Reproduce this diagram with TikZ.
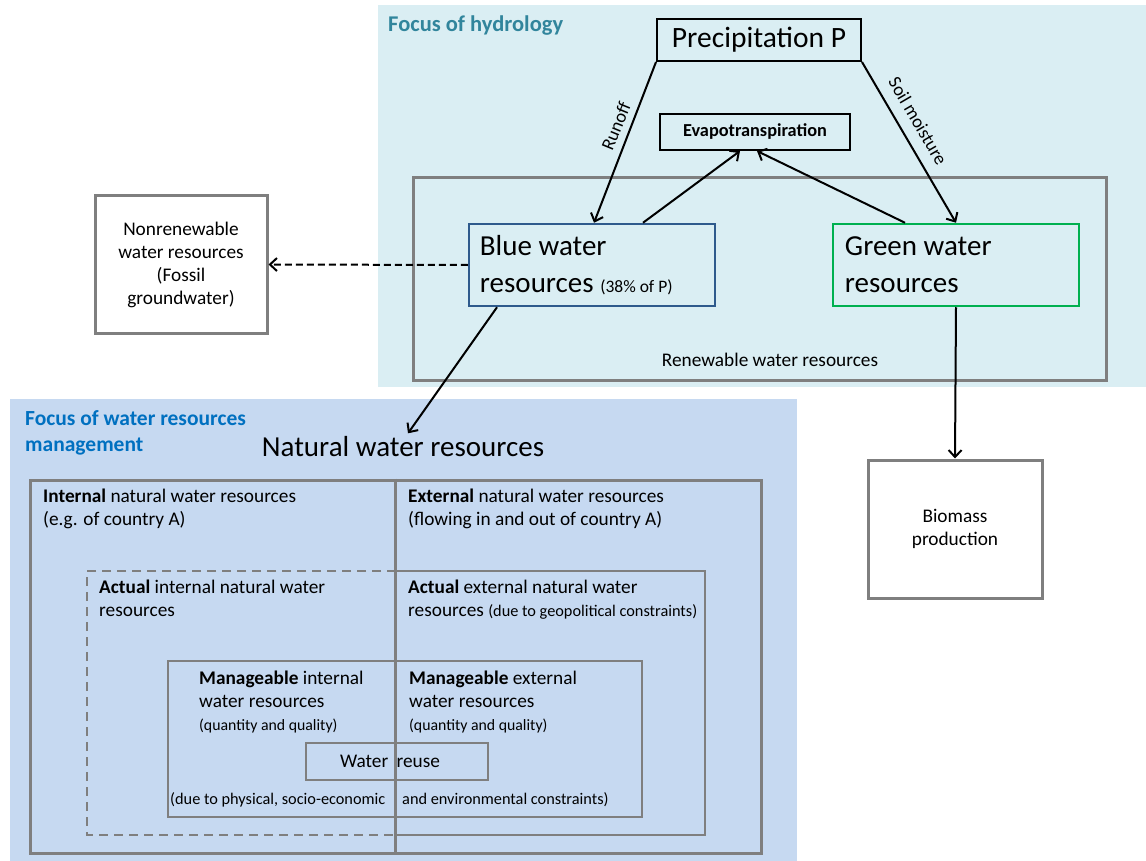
\documentclass[tikz,border=0pt]{standalone}
\usepackage{fontspec}
\setmainfont{Carlito}
\usetikzlibrary{arrows.meta,calc}

\definecolor{hydrobg}{HTML}{DAEEF3}
\definecolor{mgmtbg}{HTML}{C6D9F1}
\definecolor{framegray}{HTML}{7F7F7F}
\definecolor{bluebox}{HTML}{2E5A8C}
\definecolor{greenbox}{HTML}{00B050}
\definecolor{hydrotitle}{HTML}{31859C}
\definecolor{mgmttitle}{HTML}{0070C0}

\newcommand\fsz[2]{\fontsize{#1}{#2}\selectfont}

\tikzset{
  arr/.style={line width=2pt, -{Straight Barb[length=7pt,width=13pt,line width=2pt]}},
  graybox/.style={draw=framegray, line width=3pt},
  txt/.style={inner sep=0pt, align=left, font=\fsz{19.3}{23}},
  smalltxt/.style={inner sep=0pt, font=\fsz{16.3}{19}},
  lbl/.style={font=\fsz{18.5}{22}, inner sep=0pt},
  bigtxt/.style={inner sep=0pt, align=left, font=\fsz{29}{37}},
}

\begin{document}
\begin{tikzpicture}[x=1pt,y=-1pt]
\useasboundingbox (0,0) rectangle (1146,861);

% backgrounds of the two focus areas
\fill[hydrobg] (378,5) rectangle (1146,387);
\fill[mgmtbg] (10,399) rectangle (797,861);

% ---------- hydrology part ----------
\node[anchor=base west, inner sep=0pt, text=hydrotitle, font=\bfseries\fsz{22.5}{27}] (hydtitle) at (388,32) {Focus of hydrology};

\node[draw, line width=2pt, minimum width=204pt, minimum height=42pt, inner sep=0pt, font=\fsz{29.5}{34}] (prec) at (759,40) {Precipitation P};
\node[draw, line width=2pt, minimum width=190pt, minimum height=36pt, inner sep=0pt, font=\bfseries\fsz{18.3}{21}] (evap) at (755,132) {Evapotranspiration};

\node[graybox, minimum width=693pt, minimum height=202pt] (renew) at (759.5,279) {};
\node[inner sep=0pt, font=\fsz{19.3}{23}] (renewlbl) at (770,360) {Renewable water resources};

\node[draw=bluebox, line width=2.5pt, minimum width=246pt, minimum height=82pt] (blue) at (592,265) {};
\node[bigtxt, anchor=west] (bluetxt) at ([xshift=12pt]blue.west) {Blue water\\resources {\fsz{17.5}{20}(38\% of P)}};
\node[draw=greenbox, line width=2.5pt, minimum width=246pt, minimum height=82pt] (green) at (956,265) {};
\node[bigtxt, anchor=west] (greentxt) at ([xshift=13pt]green.west) {Green water\\resources};

\node[graybox, fill=white, minimum width=172pt, minimum height=137pt, inner sep=0pt, align=center, font=\fsz{19.3}{23}] (nonren) at (181,264.5) {Nonrenewable\\water resources\\(Fossil\\groundwater)};
\node[graybox, fill=white, minimum width=174pt, minimum height=138pt, inner sep=0pt, align=center, font=\fsz{19.3}{23}] (biomass) at (955,529) {Biomass\\production};

% flow labels, set along their connectors
\node[lbl, rotate=67.7] (runofflbl) at (616,126) {Runoff};
\node[lbl, rotate=-59.7] (soillbl) at (918,121) {Soil moisture};

% ---------- water resources management part ----------
\node[anchor=north west, inner sep=0pt, align=left, text=mgmttitle, font=\bfseries\fsz{21.5}{26}] (mgmttitle) at (25,410) {Focus of water resources\\management};
\node[font=\fsz{29}{34}] (natural) at (403,447) {Natural water resources};

\node[graybox, minimum width=731pt, minimum height=373pt] (natbox) at (395.5,666.5) {};

% actual resources: dashed on the internal side, solid on the external side
\coordinate (acttop) at (396,571);
\coordinate (actbot) at (396,835);
\draw[framegray, line width=2pt, dash pattern=on 9pt off 6pt] (acttop) -| (87,835) -- (actbot);
\draw[framegray, line width=2pt] (acttop) -| (705,835) -- (actbot);

\node[draw=framegray, line width=1.5pt, minimum width=474pt, minimum height=156pt] (manage) at (405,739) {};
\node[draw=framegray, line width=1.5pt, minimum width=182pt, minimum height=37pt] (reuse) at (397,761.5) {};
\node[inner sep=0pt, font=\fsz{19.3}{22}] (reusetxt) at (390,761.5) {Water\hspace{4pt} reuse};

% border between internal and external resources
\draw[framegray, line width=2.5pt] (natbox.north) -- (natbox.south);

\node[txt, anchor=north west] (internal) at (43,489) {\textbf{Internal} natural water resources\\(e.g. of country A)};
\node[txt, anchor=north west] (external) at (408,489) {\textbf{External} natural water resources\\(flowing in and out of country A)};
\node[txt, anchor=north west] (actint) at (99,580) {\textbf{Actual} internal natural water\\resources};
\node[txt, anchor=north west] (actext) at (408,580) {\textbf{Actual} external natural water\\resources {\fsz{16.3}{19}(due to geopolitical constraints)}};
\node[txt, anchor=north west] (manint) at (199,671) {\textbf{Manageable} internal\\water resources\\{\fsz{15.8}{22}(quantity and quality)}};
\node[txt, anchor=north west] (manext) at (409,671) {\textbf{Manageable} external\\water resources\\{\fsz{15.8}{22}(quantity and quality)}};
\node[smalltxt, anchor=mid west] (consl) at (170,802) {(due to physical, socio-economic};
\node[smalltxt, anchor=mid west] (consr) at (402,802) {and environmental constraints)};

% ---------- connectors ----------
\draw[arr] (prec.south west) -- ([xshift=2pt]blue.north);
\draw[arr] (prec.south east) -- (green.north);
\draw[arr] ([xshift=51pt]blue.north) -- ([xshift=-15pt]evap.south);
\draw[arr] ([xshift=-51pt]green.north) -- ([xshift=2pt]evap.south);
\draw[arr, dash pattern=on 7pt off 4pt] (blue.west) -- (nonren.east);
\draw[arr] ([xshift=-95pt]blue.south) -- ([xshift=5pt]natural.north);
\draw[arr] (green.south) -- (biomass.north);
\end{tikzpicture}
\end{document}
